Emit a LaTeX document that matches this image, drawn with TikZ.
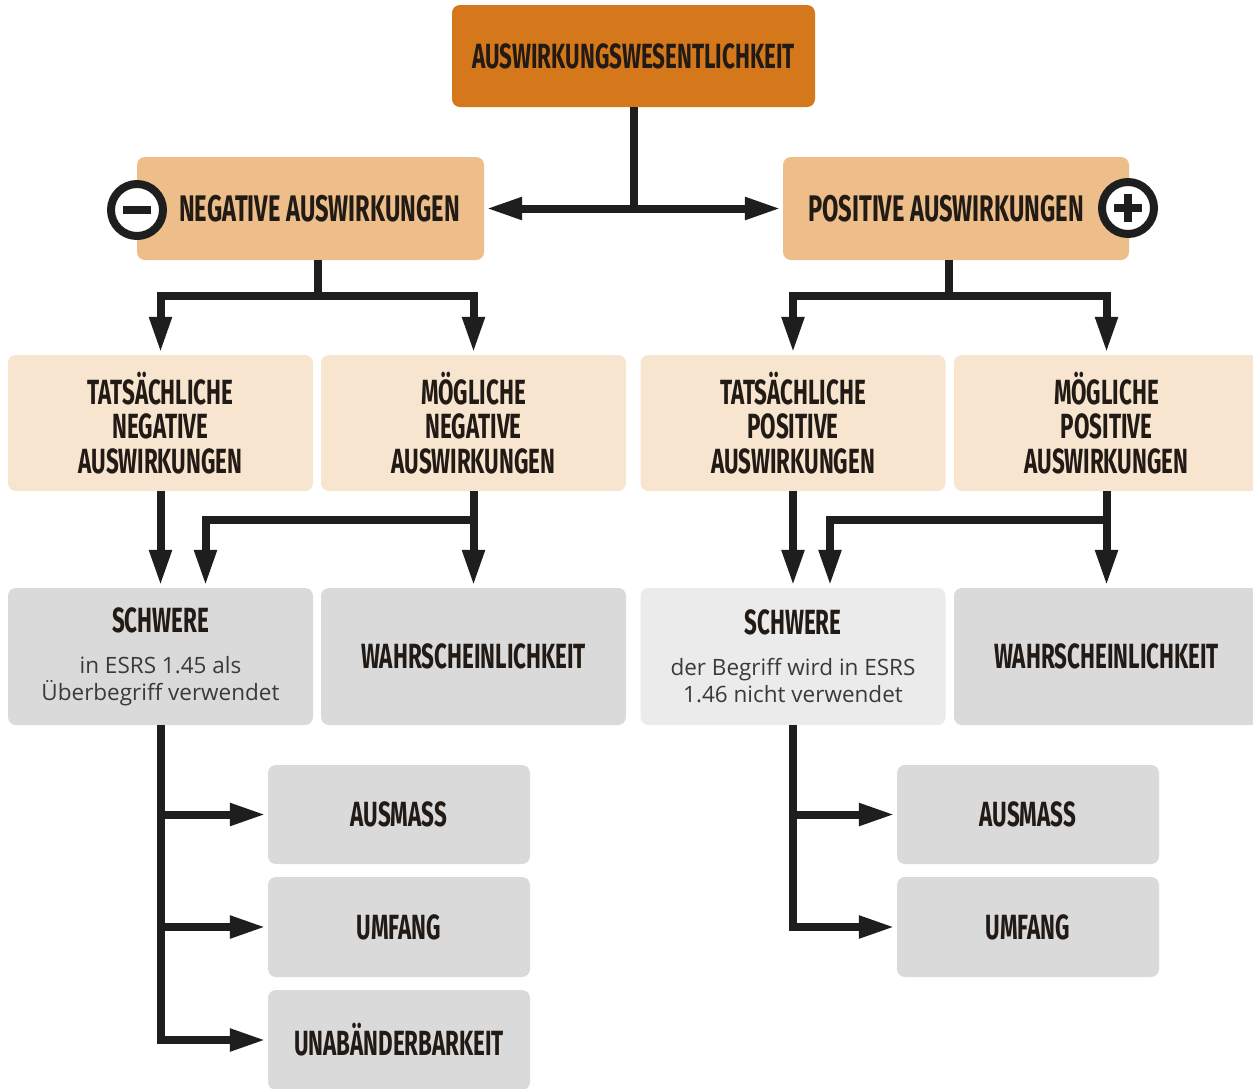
\documentclass[tikz,border=0pt]{standalone}
\usepackage{fontspec}
\setmainfont{Open Sans}
\newfontfamily\headfont[FakeStretch=0.64]{Fira Sans}
\usetikzlibrary{arrows.meta}

\definecolor{topcol}{HTML}{D4781B}
\definecolor{midcol}{HTML}{EDBE8A}
\definecolor{lightcol}{HTML}{F8E5D0}
\definecolor{greycol}{HTML}{DADADA}
\definecolor{palegrey}{HTML}{EBEBEB}
\definecolor{linecol}{HTML}{1E1E1E}
\definecolor{headtext}{HTML}{211A15}
\definecolor{bodytext}{HTML}{3A3A3A}

\tikzstyle{box}=[rectangle, rounded corners=8pt, inner sep=0pt, align=center, text=headtext, font=\headfont\bfseries\fontsize{35}{34.5}\selectfont]
\tikzstyle{wide}=[box, minimum width=305pt, minimum height=136pt]
\tikzstyle{sub}=[box, fill=greycol, minimum width=262pt, minimum height=99pt]
\tikzstyle{sign}=[circle, draw=linecol, line width=8pt, fill=white, minimum size=52pt, inner sep=0pt]
\tikzstyle{wire}=[draw=linecol, line width=8pt]
\tikzstyle{link}=[wire, -{Triangle[length=36pt,width=21pt]}, shorten >=2pt]
\newcommand{\note}[1]{\par\vspace{14pt}{\fontspec{Open Sans}\mdseries\color{bodytext}\fontsize{22.5}{27}\selectfont #1\par}}

\begin{document}
\begin{tikzpicture}[x=1pt, y=-1pt]
            \clip (0,0) rectangle (1253,1088);
            \fill[white] (0,0) rectangle (1253,1088);
            \node[box, fill=topcol, minimum width=363pt, minimum height=102pt] at (633.5,56) (top) {AUSWIRKUNGSWESENTLICHKEIT};
            \node[box, fill=midcol, minimum width=347pt, minimum height=103pt, font=\headfont\bfseries\fontsize{37}{36}\selectfont] at (310.5,208.5) (neg) {\hspace*{18pt}NEGATIVE AUSWIRKUNGEN};
            \node[box, fill=midcol, minimum width=346pt, minimum height=103pt, font=\headfont\bfseries\fontsize{37}{36}\selectfont] at (956,208.5) (pos) {POSITIVE AUSWIRKUNGEN\hspace*{20pt}};
            \node[sign] at (137,210) (minus) {};
            \node[sign] at (1128,208) (plus) {};
            \draw[wire] ([xshift=-14pt]minus.center) -- ([xshift=14pt]minus.center);
            \draw[wire] ([xshift=-14pt]plus.center) -- ([xshift=14pt]plus.center);
            \draw[wire] ([yshift=-14pt]plus.center) -- ([yshift=14pt]plus.center);

            \node[wide, fill=lightcol] at (160.5,423) (tn) {TATSÄCHLICHE\\NEGATIVE\\AUSWIRKUNGEN};
            \node[wide, fill=lightcol] at (473.5,423) (mn) {MÖGLICHE\\NEGATIVE\\AUSWIRKUNGEN};
            \node[wide, fill=lightcol] at (793,423) (tp) {TATSÄCHLICHE\\POSITIVE\\AUSWIRKUNGEN};
            \node[wide, fill=lightcol] at (1106.5,423) (mp) {MÖGLICHE\\POSITIVE\\AUSWIRKUNGEN};

            \node[wide, fill=greycol, minimum height=137pt, text width=295pt, align=flush center] at (160.5,656.5) (sn) {SCHWERE\note{in ESRS 1.45 als\\Überbegriff verwendet}};
            \node[wide, fill=greycol, minimum height=137pt] at (473.5,656.5) (wn) {WAHRSCHEINLICHKEIT};
            \node[wide, fill=palegrey, minimum height=137pt, text width=295pt, align=flush center] at (793,656.5) (sp) {SCHWERE\note{der Begriff wird in ESRS\\1.46 nicht verwendet}};
            \node[wide, fill=greycol, minimum height=137pt] at (1106.5,656.5) (wp) {WAHRSCHEINLICHKEIT};

            \node[sub] at (399,814.5) (an) {AUSMASS};
            \node[sub, minimum height=100pt] at (399,927) (un) {UMFANG};
            \node[sub, minimum height=100pt] at (399,1040) (ubn) {UNABÄNDERBARKEIT};
            \node[sub] at (1028,814.5) (ap) {AUSMASS};
            \node[sub, minimum height=100pt] at (1028,927) (up) {UMFANG};

            \path (top.south |- neg.center) coordinate (split);
            \draw[wire] (top.south) -- (split);
            \draw[link] (split) -- (neg.east);
            \draw[link] (split) -- (pos.west);

            \path ([xshift=7pt]neg.south) ++(0,36) coordinate (nfork);
            \path ([xshift=-7pt]pos.south) ++(0,36) coordinate (pfork);
            \draw[wire] ([xshift=7pt]neg.south) -- (nfork);
            \draw[wire] ([xshift=-7pt]pos.south) -- (pfork);
            \draw[link] (nfork) -| (tn.north);
            \draw[link] (nfork) -| (mn.north);
            \draw[link] (pfork) -| (tp.north);
            \draw[link] (pfork) -| (mp.north);

            \draw[link] (tn.south) -- (sn.north);
            \draw[link] (mn.south) -- (wn.north);
            \draw[link] (mn.south) ++(0,29) -| ([xshift=45pt]sn.north);
            \draw[link] (tp.south) -- (sp.north);
            \draw[link] (mp.south) -- (wp.north);
            \draw[link] (mp.south) ++(0,29) -| ([xshift=37pt]sp.north);

            \draw[link] (sn.south) |- (an.west);
            \draw[link] (sn.south) |- (un.west);
            \draw[link] (sn.south) |- (ubn.west);
            \draw[link] (sp.south) |- (ap.west);
            \draw[link] (sp.south) |- (up.west);
        \end{tikzpicture}
\end{document}
